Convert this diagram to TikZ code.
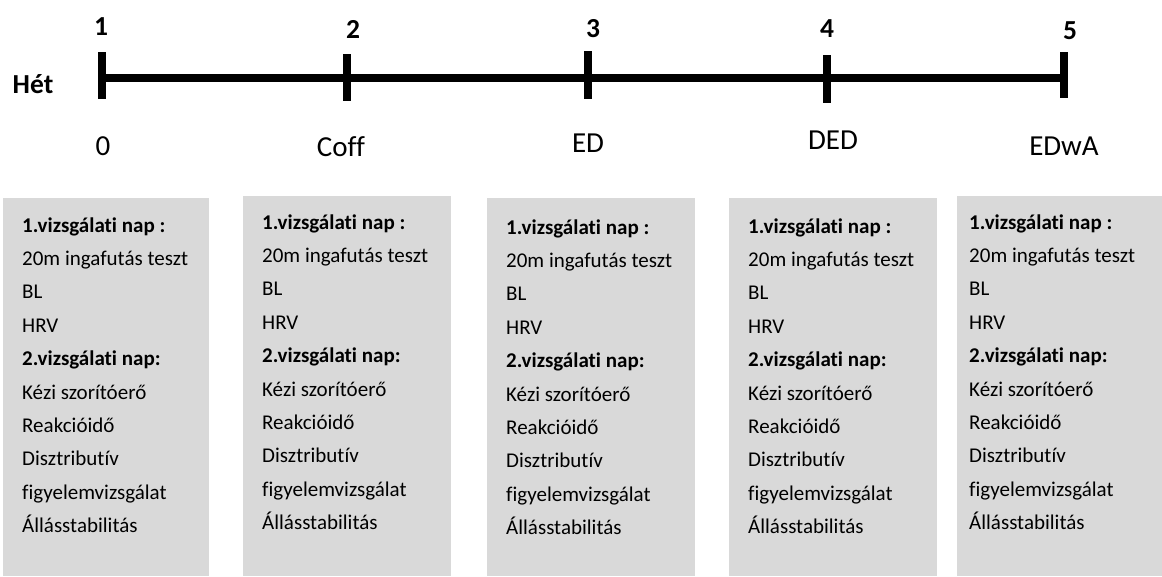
\documentclass[tikz,border=0pt]{standalone}
\usepackage{fontspec}
\setmainfont{Carlito}[Ligatures=NoCommon]
\definecolor{panelgray}{HTML}{D9D9D9}
\begin{document}
\begin{tikzpicture}[x=1pt,y=-1pt,
  lbl/.style={font=\fontsize{27.5}{32}\selectfont\bfseries, inner sep=0, anchor=base},
  phase/.style={font=\fontsize{29}{34}\selectfont, inner sep=0, anchor=base},
  panel/.style={fill=panelgray, draw=none},
  item/.style={font=\fontsize{21}{25}\selectfont, inner sep=0, anchor=base west},
  hd/.style={font=\fontsize{21}{25}\selectfont\bfseries, inner sep=0, anchor=base west},
  axis/.style={line width=8pt},
  tickmark/.style={line width=8.5pt}]
\useasboundingbox (0,0) rectangle (1162,576);

% timeline
\coordinate (t1) at (102,78);
\coordinate (t5) at (1064,78);
\draw[axis] (t1) -- (t5);
\coordinate (k1a) at (102,52); \coordinate (k1b) at (102,99);
\coordinate (k2a) at (347,54); \coordinate (k2b) at (347,101);
\coordinate (k3a) at (588,51); \coordinate (k3b) at (588,99);
\coordinate (k4a) at (827,55); \coordinate (k4b) at (827,103);
\coordinate (k5a) at (1064,52); \coordinate (k5b) at (1064,98);
\foreach \i in {1,...,5} {\draw[tickmark] (k\i a) -- (k\i b);}

% week numbers
\node[lbl] (n1) at (101,35) {1};
\node[lbl] (n2) at (353,38) {2};
\node[lbl] (n3) at (593,37) {3};
\node[lbl] (n4) at (827,37) {4};
\node[lbl] (n5) at (1070,39) {5};
\node[lbl] (het) at (33,93) {Hét};

% phases
\node[phase] (p1) at (103,155) {0};
\node[phase] (p2) at (341,156) {Coff};
\node[phase] (p3) at (588,152) {ED};
\node[phase] (p4) at (833,149) {DED};
\node[phase] (p5) at (1064,155) {EDwA};

% panels
\fill[panel] (3,198) rectangle (209,576);
\fill[panel] (243,196) rectangle (451,576);
\fill[panel] (487,198) rectangle (695,576);
\fill[panel] (729,198) rectangle (937,576);
\fill[panel] (957,196) rectangle (1162,576);

% panel texts
\foreach \b/\x/\y in {1/22/232, 2/262/229, 3/506/234, 4/748/233, 5/969/229} {
  \node[hd]   (b\b r1)  at (\x,\y)          {1.vizsgálati nap :};
  \node[item] (b\b r2)  at (\x,\y+33.4)     {20m ingafutás teszt};
  \node[item] (b\b r3)  at (\x,\y+66.8)     {BL};
  \node[item] (b\b r4)  at (\x,\y+100.2)    {HRV};
  \node[hd]   (b\b r5)  at (\x,\y+133.6)    {2.vizsgálati nap:};
  \node[item] (b\b r6)  at (\x,\y+167.0)    {Kézi szorítóerő};
  \node[item] (b\b r7)  at (\x,\y+200.4)    {Reakcióidő};
  \node[item] (b\b r8)  at (\x,\y+233.8)    {Disztributív};
  \node[item] (b\b r9)  at (\x,\y+267.2)    {figyelemvizsgálat};
  \node[item] (b\b r10) at (\x,\y+300.6)    {Állásstabilitás};
}
\end{tikzpicture}
\end{document}
